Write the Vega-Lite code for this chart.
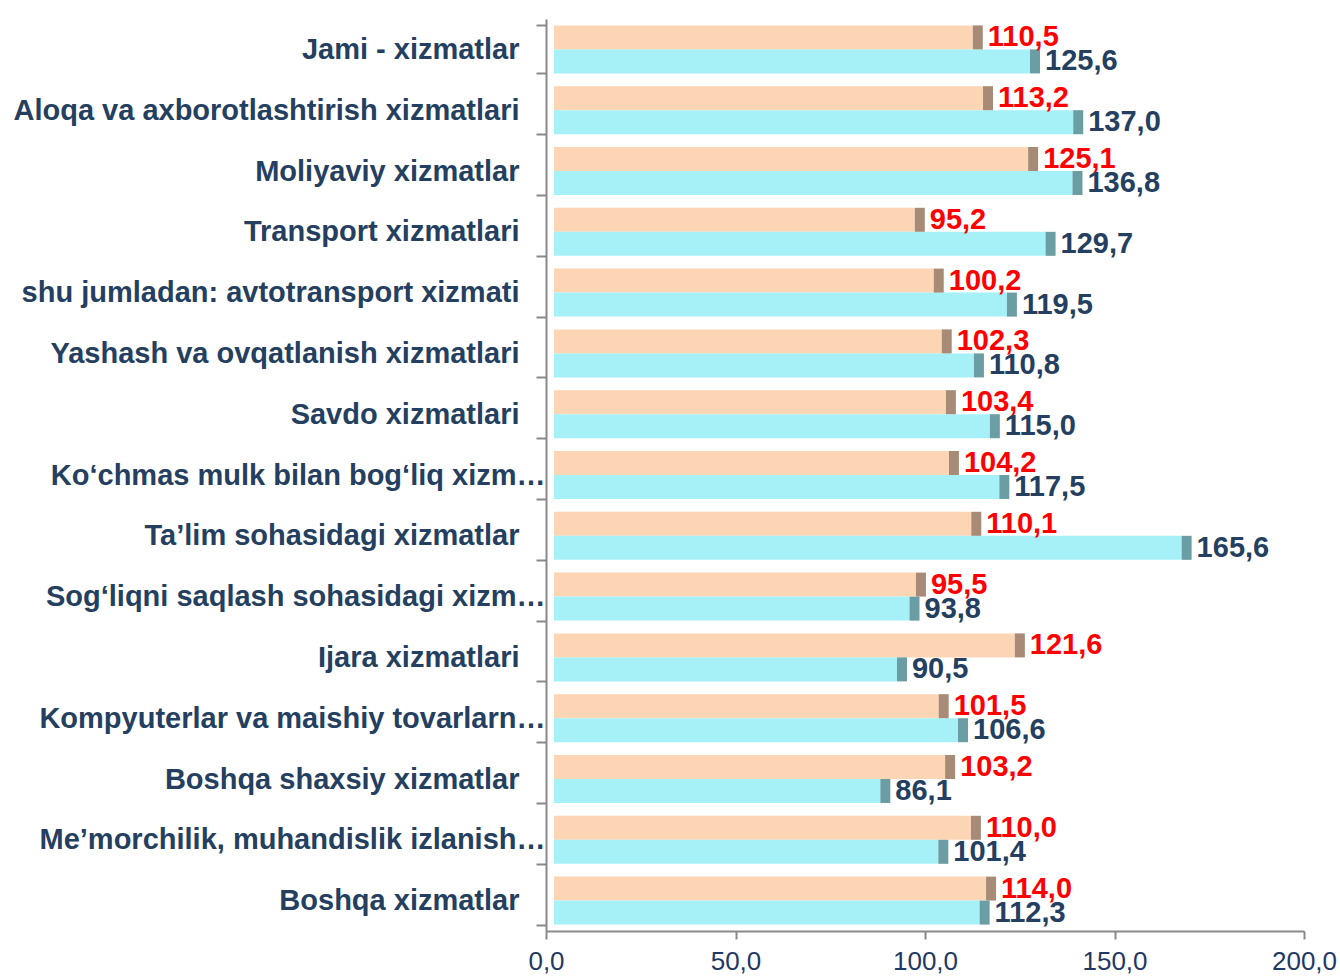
{
  "$schema": "https://vega.github.io/schema/vega-lite/v6.json",
  "width": 758,
  "height": 912,
  "autosize": {"type": "none"},
  "padding": {"left": 546, "top": 19, "right": 36, "bottom": 47},
  "background": "white",
  "config": {
    "view": {"stroke": null},
    "font": "Liberation Sans",
    "locale": {"number": {"decimal": ",", "thousands": " ", "grouping": [3], "currency": ["", ""]}}
  },
  "data": {
    "values": [
      {"k": "Jami - xizmatlar", "s": "a", "v": 110.5},
      {"k": "Jami - xizmatlar", "s": "b", "v": 125.6},
      {"k": "Aloqa va axborotlashtirish xizmatlari", "s": "a", "v": 113.2},
      {"k": "Aloqa va axborotlashtirish xizmatlari", "s": "b", "v": 137.0},
      {"k": "Moliyaviy xizmatlar", "s": "a", "v": 125.1},
      {"k": "Moliyaviy xizmatlar", "s": "b", "v": 136.8},
      {"k": "Transport xizmatlari", "s": "a", "v": 95.2},
      {"k": "Transport xizmatlari", "s": "b", "v": 129.7},
      {"k": "shu jumladan: avtotransport xizmati", "s": "a", "v": 100.2},
      {"k": "shu jumladan: avtotransport xizmati", "s": "b", "v": 119.5},
      {"k": "Yashash va ovqatlanish xizmatlari", "s": "a", "v": 102.3},
      {"k": "Yashash va ovqatlanish xizmatlari", "s": "b", "v": 110.8},
      {"k": "Savdo xizmatlari", "s": "a", "v": 103.4},
      {"k": "Savdo xizmatlari", "s": "b", "v": 115.0},
      {"k": "Ko‘chmas mulk bilan bog‘liq xizm…", "s": "a", "v": 104.2},
      {"k": "Ko‘chmas mulk bilan bog‘liq xizm…", "s": "b", "v": 117.5},
      {"k": "Ta’lim sohasidagi xizmatlar", "s": "a", "v": 110.1},
      {"k": "Ta’lim sohasidagi xizmatlar", "s": "b", "v": 165.6},
      {"k": "Sog‘liqni saqlash sohasidagi xizm…", "s": "a", "v": 95.5},
      {"k": "Sog‘liqni saqlash sohasidagi xizm…", "s": "b", "v": 93.8},
      {"k": "Ijara xizmatlari", "s": "a", "v": 121.6},
      {"k": "Ijara xizmatlari", "s": "b", "v": 90.5},
      {"k": "Kompyuterlar va maishiy tovarlarn…", "s": "a", "v": 101.5},
      {"k": "Kompyuterlar va maishiy tovarlarn…", "s": "b", "v": 106.6},
      {"k": "Boshqa shaxsiy xizmatlar", "s": "a", "v": 103.2},
      {"k": "Boshqa shaxsiy xizmatlar", "s": "b", "v": 86.1},
      {"k": "Me’morchilik, muhandislik izlanish…", "s": "a", "v": 110.0},
      {"k": "Me’morchilik, muhandislik izlanish…", "s": "b", "v": 101.4},
      {"k": "Boshqa xizmatlar", "s": "a", "v": 114.0},
      {"k": "Boshqa xizmatlar", "s": "b", "v": 112.3}
    ]
  },
  "encoding": {
    "y": {
      "field": "k",
      "type": "nominal",
      "sort": null,
      "scale": {"paddingInner": 0.21, "paddingOuter": 0.105},
      "axis": {
        "title": null,
        "domainColor": "#898989",
        "domainWidth": 2,
        "tickColor": "#898989",
        "tickWidth": 2,
        "tickSize": 10,
        "tickBand": "extent",
        "labelFont": "Liberation Sans",
        "labelFontSize": 29,
        "labelFontWeight": "bold",
        "labelColor": "#243F60",
        "labelPadding": {"condition": {"test": "indexof(datum.label, '…') >= 0", "value": -9}, "value": 17},
        "labelLimit": 700
      }
    },
    "yOffset": {"field": "s", "sort": ["a", "b"]}
  },
  "layer": [
    {
      "mark": {"type": "bar", "xOffset": 8, "x2Offset": 4},
      "encoding": {
        "x": {
          "field": "v",
          "type": "quantitative",
          "scale": {"domain": [0, 200], "nice": false},
          "axis": {
            "title": null,
            "values": [0, 50, 100, 150, 200],
            "format": ".1f",
            "grid": false,
            "domainColor": "#898989",
            "domainWidth": 2,
            "tickColor": "#898989",
            "tickWidth": 2,
            "tickSize": 8,
            "labelFont": "Liberation Sans",
            "labelFontSize": 26,
            "labelColor": "#1F3864",
            "labelPadding": 9,
            "labelFlush": false
          }
        },
        "color": {"condition": {"test": "datum.s === 'a'", "value": "#FCD5B5"}, "value": "#A6F0F8"}
      }
    },
    {
      "mark": {"type": "bar", "xOffset": 18, "x2Offset": 8},
      "encoding": {
        "x": {"field": "v", "type": "quantitative"},
        "x2": {"field": "v"},
        "color": {"condition": {"test": "datum.s === 'a'", "value": "#A88B76"}, "value": "#6B9EA4"}
      }
    },
    {
      "mark": {"type": "text", "align": "left", "baseline": "middle", "dx": 23, "fontSize": 29, "fontWeight": "bold", "font": "Liberation Sans"},
      "encoding": {
        "x": {"field": "v", "type": "quantitative"},
        "text": {"field": "v", "type": "quantitative", "format": ".1f"},
        "color": {"condition": {"test": "datum.s === 'a'", "value": "#FF0000"}, "value": "#243F60"}
      }
    }
  ]
}
